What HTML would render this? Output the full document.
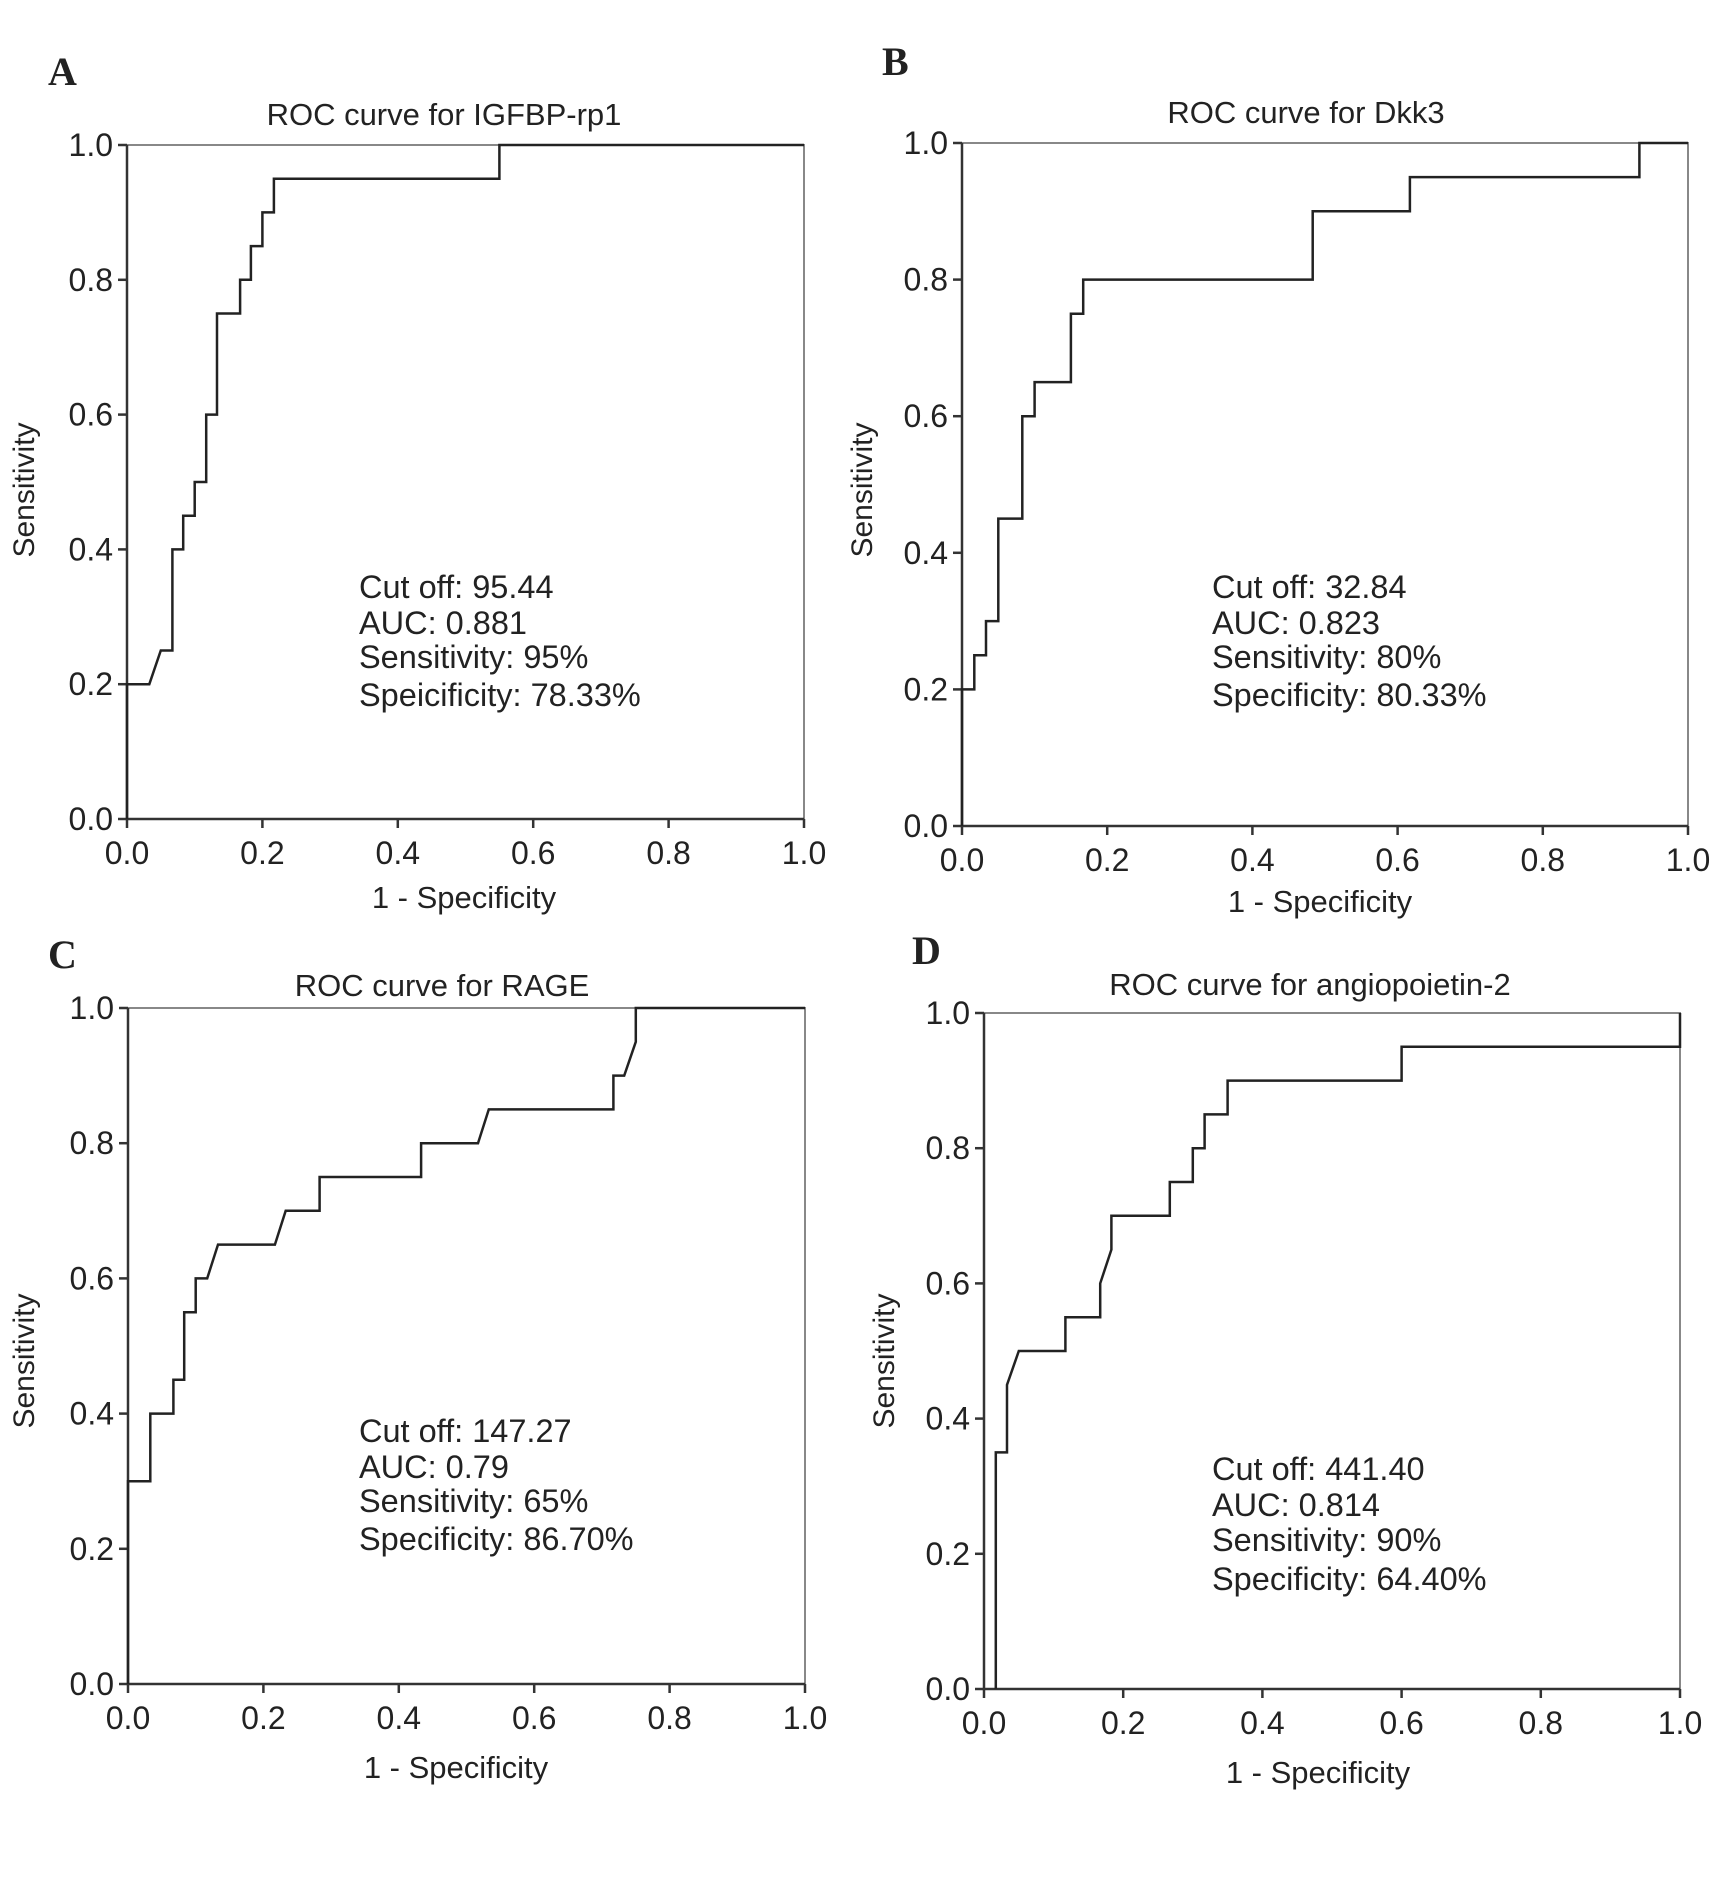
<!DOCTYPE html>
<html><head><meta charset="utf-8"><style>
html,body{margin:0;padding:0;background:#fff}
svg{display:block}
text{font-family:"Liberation Sans",Arial,sans-serif;fill:#222}
</style></head><body>
<svg id="fig" width="1723" height="1890" viewBox="0 0 1723 1890" xmlns="http://www.w3.org/2000/svg"></svg>
<script>
const tickValues=[0,0.2,0.4,0.6,0.8,1.0];
const tickLabels=["0.0","0.2","0.4","0.6","0.8","1.0"];
const aX=[0,0,0.033,0.05,0.067,0.067,0.083,0.083,0.1,0.1,0.117,0.117,0.133,0.133,0.167,0.167,0.183,0.183,0.2,0.2,0.217,0.217,0.55,0.55,1];
const aY=[0,0.2,0.2,0.25,0.25,0.4,0.4,0.45,0.45,0.5,0.5,0.6,0.6,0.75,0.75,0.8,0.8,0.85,0.85,0.9,0.9,0.95,0.95,1,1];
const bX=[0,0,0.017,0.017,0.033,0.033,0.05,0.05,0.083,0.083,0.1,0.1,0.15,0.15,0.167,0.167,0.483,0.483,0.617,0.617,0.933,0.933,1];
const bY=[0,0.2,0.2,0.25,0.25,0.3,0.3,0.45,0.45,0.6,0.6,0.65,0.65,0.75,0.75,0.8,0.8,0.9,0.9,0.95,0.95,1,1];
const cX=[0,0,0.033,0.033,0.067,0.067,0.083,0.083,0.1,0.1,0.117,0.133,0.217,0.233,0.283,0.283,0.433,0.433,0.517,0.533,0.717,0.717,0.733,0.75,0.75,1];
const cY=[0,0.3,0.3,0.4,0.4,0.45,0.45,0.55,0.55,0.6,0.6,0.65,0.65,0.7,0.7,0.75,0.75,0.8,0.8,0.85,0.85,0.9,0.9,0.95,1,1];
const dX=[0.017,0.017,0.033,0.033,0.05,0.117,0.117,0.167,0.167,0.183,0.183,0.267,0.267,0.3,0.3,0.317,0.317,0.35,0.35,0.6,0.6,1,1];
const dY=[0,0.35,0.35,0.45,0.5,0.5,0.55,0.55,0.6,0.65,0.7,0.7,0.75,0.75,0.8,0.8,0.85,0.85,0.9,0.9,0.95,0.95,1];
const panelLetters=["A","B","C","D"];
const panelTitles=["ROC curve for IGFBP-rp1","ROC curve for Dkk3","ROC curve for RAGE","ROC curve for angiopoietin-2"];
const annA=["Cut off: 95.44","AUC: 0.881","Sensitivity: 95%","Speicificity: 78.33%"];
const annB=["Cut off: 32.84","AUC: 0.823","Sensitivity: 80%","Specificity: 80.33%"];
const annC=["Cut off: 147.27","AUC: 0.79","Sensitivity: 65%","Specificity: 86.70%"];
const annD=["Cut off: 441.40","AUC: 0.814","Sensitivity: 90%","Specificity: 64.40%"];

const NS="http://www.w3.org/2000/svg";
const svg=document.getElementById('fig');
function mk(tag,attrs,parent,txt){const e=document.createElementNS(NS,tag);for(const k in attrs)e.setAttribute(k,attrs[k]);if(txt!==undefined)e.textContent=txt;(parent||svg).appendChild(e);return e;}

const layouts=[
 {x0:127,x1:804,y0:819,y1:145,lx:48,ly:85,tx:444,ty:125,ax:359,ay:[598,634,668,706],xlx:464,xly:908,slx:24,sly:490,xs:aX,ys:aY,ann:annA},
 {x0:962,x1:1688,y0:826,y1:143,lx:882,ly:75,tx:1306,ty:123,ax:1212,ay:[598,634,668,706],xlx:1320,xly:912,slx:862,sly:490,xs:bX,ys:bY,ann:annB},
 {x0:128,x1:805,y0:1684,y1:1008,lx:48,ly:968,tx:442,ty:996,ax:359,ay:[1442,1478,1512,1550],xlx:456,xly:1778,slx:24,sly:1361,xs:cX,ys:cY,ann:annC},
 {x0:984,x1:1680,y0:1689,y1:1013,lx:912,ly:964,tx:1310,ty:995,ax:1212,ay:[1480,1516,1551,1590],xlx:1318,xly:1783,slx:884,sly:1361,xs:dX,ys:dY,ann:annD}
];

layouts.forEach((L,i)=>{
  const g=mk('g',{});
  
  
  const sx=v=>L.x0+v*(L.x1-L.x0);
  const sy=v=>L.y0+v*(L.y1-L.y0);
  const lt=mk('text',{x:L.lx,y:L.ly,'font-size':40,'font-weight':'bold',style:'font-family:"Liberation Serif",serif'},g,panelLetters[i]);
  
  
  const tt=mk('text',{x:L.tx,y:L.ty,'font-size':31,'text-anchor':'middle'},g,panelTitles[i]);
  
  
  const fr=mk('path',{d:`M${sx(0)},${sy(1)}H${sx(1)}V${sy(0)}`,fill:'none',stroke:'#888','stroke-width':2},g);
  
  
  const ax=mk('path',{d:`M${sx(0)},${sy(1)}V${sy(0)}H${sx(1)}`,fill:'none',stroke:'#333','stroke-width':2.5},g);
  
  
  tickValues.forEach((v,k)=>{
    mk('line',{x1:sx(v),x2:sx(v),y1:sy(0),y2:sy(0)+9,stroke:'#333','stroke-width':2.5},g);
    mk('line',{x1:sx(0)-9,x2:sx(0),y1:sy(v),y2:sy(v),stroke:'#333','stroke-width':2.5},g);
    const xt=mk('text',{x:sx(v),y:sy(0)+45,'font-size':32,'text-anchor':'middle'},g,tickLabels[k]);
    
    
    const yt=mk('text',{x:sx(0)-14,y:sy(v)+11,'font-size':32,'text-anchor':'end'},g,tickLabels[k]);
    
    
  });
  const xl=mk('text',{x:L.xlx,y:L.xly,'font-size':31,'text-anchor':'middle'},g,'1 - Specificity');
  
  
  const yl=mk('text',{x:L.slx+10,y:L.sly,'font-size':30,'text-anchor':'middle',transform:`rotate(-90 ${L.slx+10} ${L.sly})`},g,'Sensitivity');
  
  
  const pts=L.xs.map((x,k)=>sx(x).toFixed(1)+','+sy(L.ys[k]).toFixed(1)).join(' ');
  const cu=mk('polyline',{points:pts,fill:'none',stroke:'#222','stroke-width':2.5,'stroke-linejoin':'miter'},g);
  
  
  L.ann.forEach((s,k)=>{
    const a=mk('text',{x:L.ax,y:L.ay[k],'font-size':32.5},g,s);
    
    
  });
});
</script>
</body></html>
